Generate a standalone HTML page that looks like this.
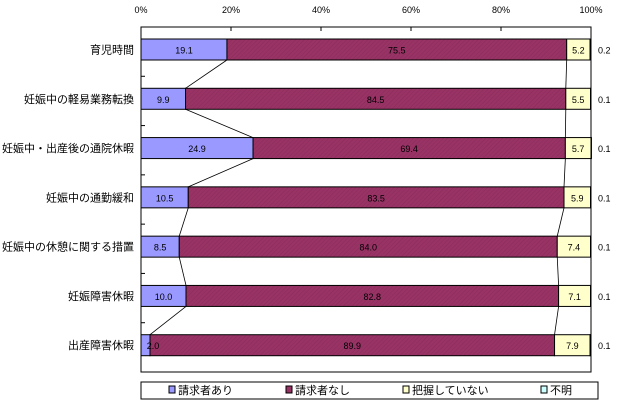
<!DOCTYPE html>
<html><head><meta charset="utf-8"><style>
body{margin:0;background:#fff;}
svg text{font-family:"Liberation Sans","Noto Sans CJK JP",sans-serif;}
</style></head><body>
<svg id="c" width="620" height="405" xmlns="http://www.w3.org/2000/svg">
<defs>
<pattern id="hatch" width="3" height="3" patternUnits="userSpaceOnUse" patternTransform="rotate(45)">
<rect width="3" height="3" fill="#993366"/><line x1="0" y1="0" x2="0" y2="3" stroke="#8a2d5a" stroke-width="1"/>
</pattern>
</defs>
</svg>
<script>
const categories=["育児時間","妊娠中の軽易業務転換","妊娠中・出産後の通院休暇","妊娠中の通勤緩和","妊娠中の休憩に関する措置","妊娠障害休暇","出産障害休暇"];
const seriesNames=["請求者あり","請求者なし","把握していない","不明"];
const ari=[19.1,9.9,24.9,10.5,8.5,10.0,2.0];
const nashi=[75.5,84.5,69.4,83.5,84.0,82.8,89.9];
const haaku=[5.2,5.5,5.7,5.9,7.4,7.1,7.9];
const fumei=[0.2,0.1,0.1,0.1,0.1,0.1,0.1];
const tickLabels=["0%","20%","40%","60%","80%","100%"];
const colors=["#9999ff","url(#hatch)","#ffffcc","#ccffff"];
const svg=document.getElementById('c');
const NS="http://www.w3.org/2000/svg";
const L=141,R=591,T=27,B=372;
const rowH=(B-T)/categories.length;
const x=v=>L+(R-L)*v/100;
function mk(tag,attrs,txt){const e=document.createElementNS(NS,tag);for(const k in attrs)e.setAttribute(k,attrs[k]);if(txt!==undefined)e.textContent=txt;svg.appendChild(e);return e;}
let f=mk('rect',{x:L,y:T,width:R-L,height:B-T,fill:'none',stroke:'#000','stroke-width':1});


tickLabels.forEach((t,i)=>{
 const xx=x(i*20);
 let tl=mk('text',{x:xx,y:13,'font-size':9,'text-anchor':'middle'},t);
 
 
 let tk=mk('line',{x1:xx,y1:T,x2:xx,y2:T+4,stroke:'#000'});
 
 
});
const all=[ari,nashi,haaku,fumei];
const barH=21;
categories.forEach((c,i)=>{
 const top=T+i*rowH+12;
 if(i>0){let tk=mk('line',{x1:L,y1:T+i*rowH,x2:L+4,y2:T+i*rowH,stroke:'#000'});
 
 }
 let cl=mk('text',{x:L-7,y:top+barH/2+4,'font-size':11,'text-anchor':'end'},c);
 
 
 let acc=0;
 all.forEach((s,j)=>{
  const v=s[i];
  const r=mk('rect',{x:x(acc),y:top,width:x(acc+v)-x(acc),height:barH,fill:colors[j],stroke:'#000','stroke-width':1});
  
  
  acc+=v;
 });
 acc=0;
 all.forEach((s,j)=>{
  const v=s[i];
  if(j<3){
   const cx=j==0&&v<4?x(acc)+12:(x(acc)+x(acc+v))/2;
   let vl=mk('text',{x:cx,y:top+barH/2+4,'font-size':9,'text-anchor':'middle'},v.toFixed(1));
   
   
  } else {
   let vl=mk('text',{x:R+7,y:top+barH/2+4,'font-size':9},v.toFixed(1));
   
   
  }
  acc+=v;
 });
 if(i<categories.length-1){
  const nt=T+(i+1)*rowH+12;
  let a1=ari[i],a2=ari[i+1],b1=ari[i]+nashi[i],b2=ari[i+1]+nashi[i+1];
  let s1=mk('line',{x1:x(a1),y1:top+barH,x2:x(a2),y2:nt,stroke:'#000','stroke-width':0.8});
  
  
  let s2=mk('line',{x1:x(b1),y1:top+barH,x2:x(b2),y2:nt,stroke:'#000','stroke-width':0.8});
  
  
 }
});
let lg=mk('rect',{x:141,y:382,width:457,height:17,fill:'#fff',stroke:'#000'});


const lx=[169,286,403,541];
seriesNames.forEach((n,j)=>{
 let m=mk('rect',{x:lx[j],y:386,width:6,height:7,fill:colors[j],stroke:'#000','stroke-width':1});
 
 
 let t=mk('text',{x:lx[j]+9,y:394,'font-size':11},n);
 
 
});
</script>
</body></html>
